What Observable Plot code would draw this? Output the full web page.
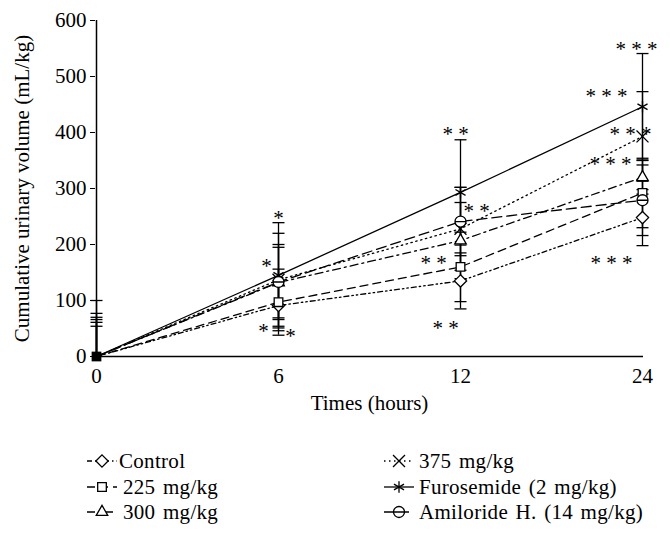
<!DOCTYPE html>
<html><head><meta charset="utf-8">
<script src="https://cdn.jsdelivr.net/npm/d3@7"></script>
<script src="https://cdn.jsdelivr.net/npm/@observablehq/plot@0.6"></script>
<style>
body{margin:0;background:#fff;font-family:"Liberation Serif","Times New Roman","DejaVu Serif",serif;}
#chart{width:670px;height:425px;}
#legend{position:relative;width:670px;height:113px;font-size:21px;color:#000;font-family:"Liberation Serif","Times New Roman","DejaVu Serif",serif;}
.item{position:absolute;display:flex;align-items:center;height:24px;white-space:nowrap;word-spacing:2px;letter-spacing:0.3px;}
.item svg{display:block;}
</style></head><body>
<div id="chart"></div>
<div id="legend"></div>
<script>
// ---- data ----
const times = [0, 6, 12, 24];
const seriesNames = ["Control", "225 mg/kg", "300 mg/kg", "375 mg/kg", "Furosemide (2 mg/kg)", "Amiloride H. (14 mg/kg)"];
const control    = [0, 91, 135, 248];
const mg225      = [0, 97, 160, 292];
const mg300      = [0, 132, 207, 320];
const mg375      = [0, 137, 228, 393];
const furosemide = [0, 145, 293, 446];
const amiloride  = [0, 133, 241, 279];
const controlSD    = [54, 45, 50, 50];
const mg225SD      = [61, 59, 62, 62];
const mg300SD      = [70, 63, 68, 30];
const mg375SD      = [77, 83, 74, 80];
const furosemideSD = [100, 94, 94, 95];
const amilorideSD  = [66, 67, 61, 63];
const annotationLabels = ["*", "*", "*", "*", "* *", "* *", "* *", "* *", "* * *", "* * *", "* * *", "* * *", "* * *"];
const annotationTimes  = [6, 6, 6, 6, 12, 12, 12, 12, 24, 24, 24, 24, 24];
const annotationValues = [257, 171, 55, 46, 407, 270, 177, 61, 559, 475, 407, 354, 177];

// ---- styles ----
const FONT = "Liberation Serif, Times New Roman, DejaVu Serif, serif";
const annotationDx = [0, -12, -15, 12, -5, 16, -27, -15, -6, -36, -12, -32, -31];
const circleMinus = {draw(ctx, size){const r=Math.sqrt(size/Math.PI);ctx.moveTo(r,0);ctx.arc(0,0,r,0,2*Math.PI);ctx.moveTo(-r,0);ctx.lineTo(r,0);}};
const capSym = {draw(ctx){ctx.moveTo(-6,0);ctx.lineTo(6,0);}};
const values = [control, mg225, mg300, mg375, furosemide, amiloride];
const sds = [controlSD, mg225SD, mg300SD, mg375SD, furosemideSD, amilorideSD];
const dashes = ["5,3,1.5,3,1.5,3", "8,5", "8,4,2,4", "1.5,3.5", null, "10,5"];
const symbols = [d3.symbolDiamond2, d3.symbolSquare2, d3.symbolTriangle2, d3.symbolTimes, d3.symbolAsterisk, circleMinus];
const symFill = ["white", "white", "white", "none", "none", "white"];

const rows = [];
seriesNames.forEach((name, s) => times.forEach((t, i) => rows.push({series: name, s, time: t, value: values[s][i], sd: sds[s][i]})));
const errRows = rows.map(d => ({...d, lo: Math.max(0, d.value - d.sd), hi: d.value + d.sd}));
const caps = [];
errRows.forEach(d => { caps.push({time: d.time, y: d.hi}); if (d.value - d.sd > 0) caps.push({time: d.time, y: d.lo}); });
const annotations = annotationLabels.map((label, i) => ({label, time: annotationTimes[i], value: annotationValues[i]}));

const marks = [
  Plot.axisY(d3.range(0, 601, 100), {tickSize: 5, tickPadding: 4, label: null, fontSize: 21, fontFamily: FONT}),
  Plot.axisX(times, {tickSize: 0, tickPadding: 12, label: null, fontSize: 21, fontFamily: FONT}),
  Plot.ruleX([times[0]], {y1: 0, y2: 600, strokeWidth: 1.5}),
  Plot.ruleY([0], {strokeWidth: 1.5}),
  Plot.ruleX(errRows, {x: "time", y1: "lo", y2: "hi", strokeWidth: 1.3}),
  Plot.dot(caps, {x: "time", y: "y", symbol: capSym, stroke: "black", strokeWidth: 1.3, r: 3})
];
seriesNames.forEach((name, s) => {
  const data = rows.filter(d => d.s === s);
  marks.push(Plot.line(data, {x: "time", y: "value", stroke: "black", strokeWidth: 1.3, strokeDasharray: dashes[s] || undefined}));
});
seriesNames.forEach((name, s) => {
  const data = rows.filter(d => d.s === s && d.time !== times[0]);
  marks.push(Plot.dot(data, {x: "time", y: "value", symbol: symbols[s], stroke: "black", fill: symFill[s], strokeWidth: 1.3, r: 5.5}));
});
marks.push(Plot.dot([rows[0]], {x: "time", y: "value", symbol: "square", fill: "black", r: 5.5}));
annotations.forEach((a, i) => marks.push(Plot.text([a], {x: "time", y: "value", text: "label", dx: annotationDx[i], dy: 6, fontSize: 21, fontFamily: FONT})));
marks.push(Plot.text(["Times (hours)"], {frameAnchor: "bottom", dy: 53, text: d => d, fontSize: 21, fontFamily: FONT}));
marks.push(Plot.text(["Cumulative urinary volume (mL/kg)"], {frameAnchor: "left", textAnchor: "middle", dx: -73, rotate: -90, text: d => d, fontSize: 21, fontFamily: FONT}));

const chart = Plot.plot({
  width: 670, height: 425,
  marginLeft: 95, marginRight: 27, marginTop: 20, marginBottom: 69,
  style: {fontFamily: FONT, fontSize: "21px", color: "black", background: "white", overflow: "visible"},
  x: {type: "point", domain: times, padding: 0},
  y: {domain: [0, 600]},
  marks
});
document.getElementById("chart").appendChild(chart);

// legend
const legend = document.getElementById("legend");
const legendPos = [[86, 36], [86, 62], [86, 87], [383, 36], [383, 62], [383, 87]];
seriesNames.forEach((name, s) => {
  const div = document.createElement("div");
  div.className = "item";
  div.style.left = legendPos[s][0] + "px";
  div.style.top = (legendPos[s][1] - 12) + "px";
  const svg = d3.create("svg").attr("width", 32).attr("height", 24);
  svg.append("line").attr("x1", 1).attr("x2", 31).attr("y1", 12).attr("y2", 12)
    .attr("stroke", "black").attr("stroke-width", 1.3).attr("stroke-dasharray", dashes[s] || null);
  svg.append("path").attr("transform", "translate(16,12)")
    .attr("d", d3.symbol(symbols[s], Math.PI * 5.5 * 5.5)())
    .attr("stroke", "black").attr("stroke-width", 1.3).attr("fill", symFill[s]);
  div.appendChild(svg.node());
  const span = document.createElement("span");
  span.textContent = name;
  span.style.marginLeft = (s < 3 ? (s ? 5 : 1) : 4) + "px";
  div.appendChild(span);
  legend.appendChild(div);
});
</script>
</body></html>
